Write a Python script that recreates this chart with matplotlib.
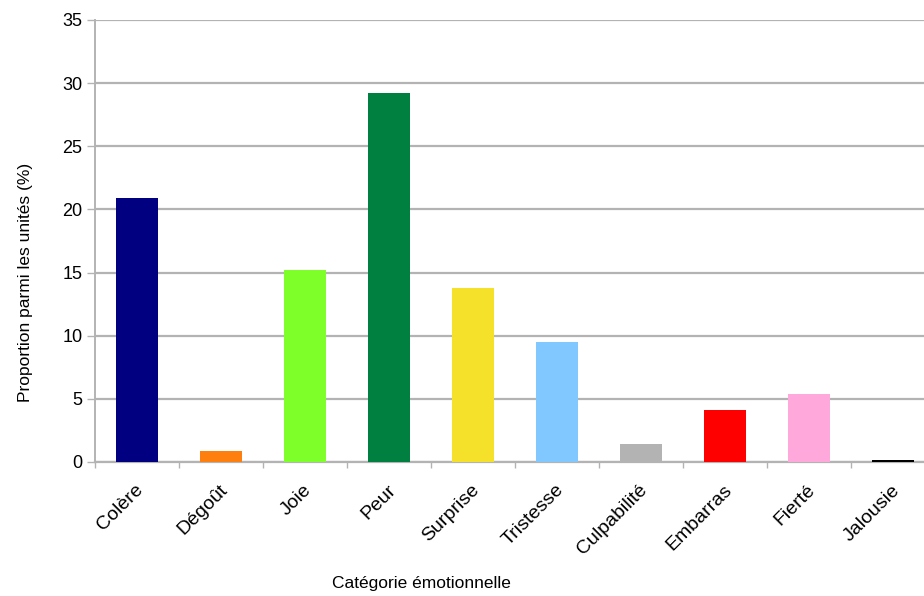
import numpy as np
import matplotlib.pyplot as plt
import matplotlib.transforms as mtransforms

plt.rcParams['font.family'] = ['Liberation Sans', 'DejaVu Sans']

categories = ['Colère', 'Dégoût', 'Joie', 'Peur', 'Surprise', 'Tristesse',
              'Culpabilité', 'Embarras', 'Fierté', 'Jalousie']
values = [20.9, 0.9, 15.2, 29.2, 13.8, 9.5, 1.4, 4.1, 5.4, 0.15]
colors = ['#000080', '#ff7f0e', '#7fff2a', '#008040', '#f5e12a', '#80c8ff',
          '#b3b3b3', '#ff0000', '#ffa8db', '#000000']

fig = plt.figure(figsize=(9.24, 5.96), dpi=100)
ax = fig.add_axes([95/924, 134/596, 840/924, 442/596])

x = np.arange(len(categories))
ax.bar(x, values, width=0.5, color=colors, zorder=3)

ax.set_xlim(-0.5, len(categories) - 0.5)
ax.set_ylim(0, 35)
ax.set_yticks(np.arange(0, 36, 5))
ax.yaxis.grid(True, color='#b3b3b3', linewidth=1.6, zorder=0)

ax.set_xticks(x)
ax.set_xticks(np.arange(-0.5, len(categories), 1), minor=True)
ax.tick_params(axis='x', which='major', length=0, pad=14)
ax.tick_params(axis='x', which='minor', length=4, color='#b3b3b3', width=1)
ax.tick_params(axis='y', length=6, color='#b3b3b3', width=1, labelsize=13, pad=3)

offset = mtransforms.ScaledTranslation(-2/100, 0, fig.dpi_scale_trans)
ax.set_xticklabels(categories, rotation=45, ha='right', rotation_mode='anchor',
                   fontsize=14)
for lbl in ax.get_xticklabels():
    lbl.set_transform(lbl.get_transform() + offset)

for side in ['top', 'right']:
    ax.spines[side].set_visible(False)
ax.spines['left'].set_color('#b3b3b3')
ax.spines['bottom'].set_color('#b3b3b3')
ax.spines['left'].set_linewidth(1.4)
ax.spines['bottom'].set_linewidth(1.6)

ax.set_ylabel('Proportion parmi les unités (%)', fontsize=12.5)
ax.yaxis.set_label_coords(-0.074, 0.407)
ax.set_xlabel('Catégorie émotionnelle', fontsize=12.5)
ax.xaxis.set_label_coords(0.389, -0.258)

fig.savefig('out.png', dpi=100)
